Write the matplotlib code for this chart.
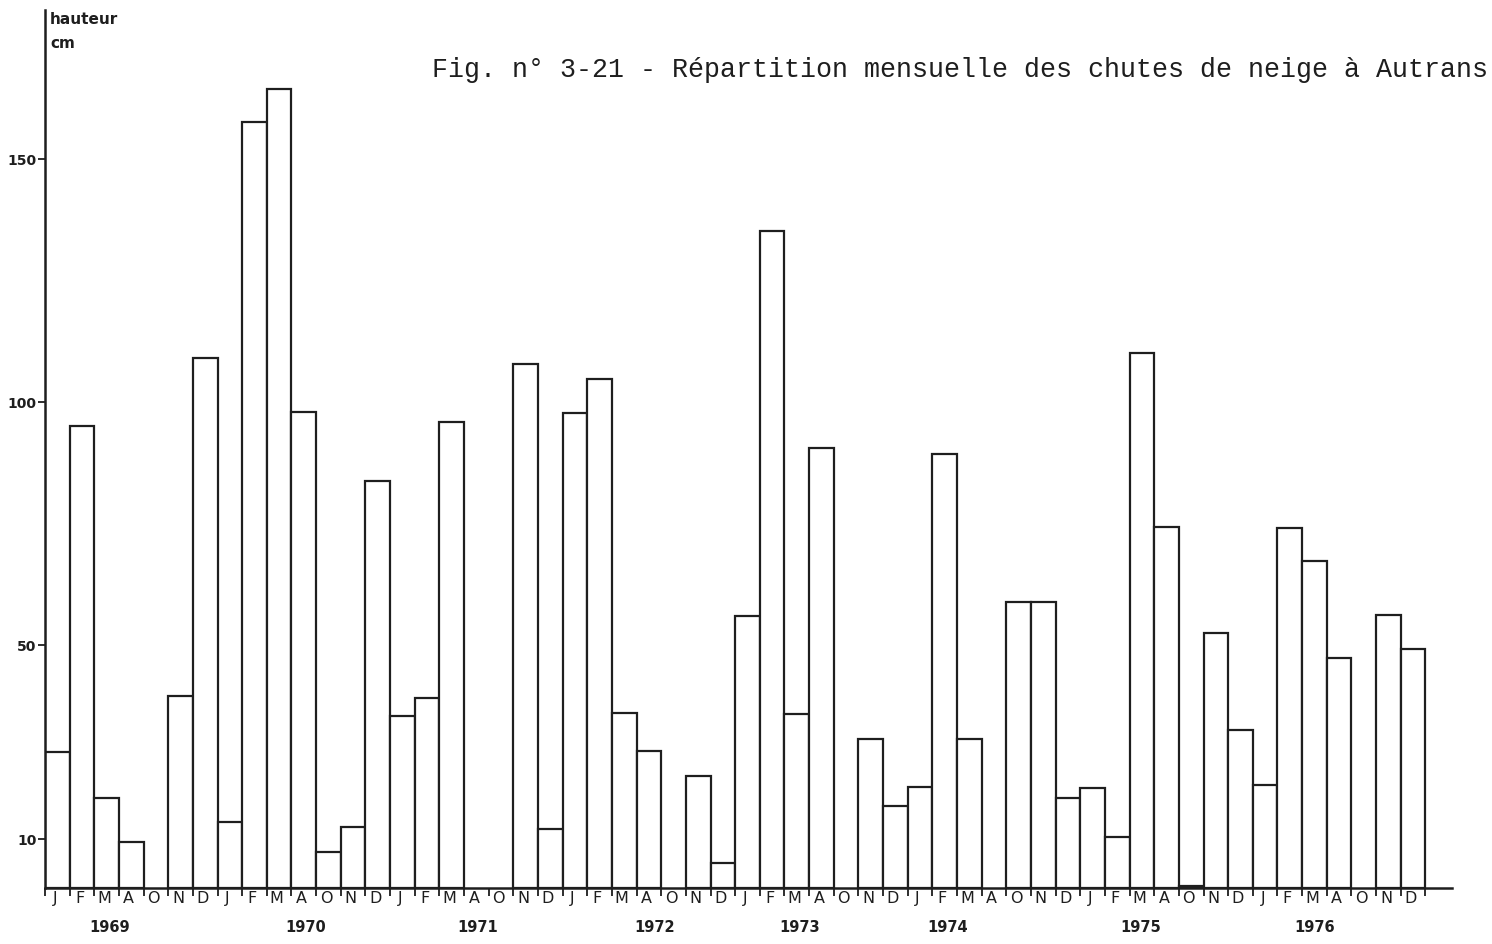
import numpy as np
import matplotlib
matplotlib.use("Agg")
import matplotlib.pyplot as plt

# monthly snowfall at Autrans (cm), snow months only: J F M A O N D
years = ["1969", "1970", "1971", "1972", "1973", "1974", "1975", "1976"]
months = ["J", "F", "M", "A", "O", "N", "D"]
snow = [
    27.9, 95.1, 18.6, 9.4, None, 39.5, 109.0,    # 1969
    13.5, 157.6, 164.5, 98.0, 7.4, 12.5, 83.8,   # 1970
    35.5, 39.1, 95.9, None, None, 107.8, 12.1,   # 1971
    97.7, 104.7, 36.1, 28.1, None, 23.0, 5.1,    # 1972
    55.9, 135.2, 35.9, 90.6, None, 30.7, 16.8,   # 1973
    20.7, 89.3, 30.7, None, 58.8, 58.8, 18.6,    # 1974
    20.5, 10.5, 110.2, 74.2, 0.5, 52.5, 32.6,    # 1975
    21.3, 74.0, 67.2, 47.3, None, 56.1, 49.2,    # 1976
]
yticks = [10, 50, 100, 150]

# where the year captions sit under the axis (slot units)
year_x = [2.64, 10.59, 17.57, 24.75, 30.63, 36.63, 44.46, 51.52]

ink = "#1e1e1e"
fig = plt.figure(figsize=(14.92, 9.44), dpi=100)
ax_h = 878 / 944
ax = fig.add_axes([45/1492, 56/944, 1407/1492, ax_h])

slots = np.arange(len(snow))
vals = np.array([np.nan if v is None else v for v in snow])
has = ~np.isnan(vals)
ax.bar(slots[has], vals[has], width=1.0, align="edge", facecolor="white",
       edgecolor=ink, linewidth=1.6)

ax.set_xlim(0, 57.08)
ax.set_ylim(0, 180.7)
for s in ["top", "right"]:
    ax.spines[s].set_visible(False)
for s in ["left", "bottom"]:
    ax.spines[s].set_color(ink)
    ax.spines[s].set_linewidth(1.8)

ax.set_yticks(yticks)
ax.set_yticklabels([str(t) for t in yticks], fontsize=10, fontweight="bold", color=ink)
ax.tick_params(axis="y", direction="out", length=5, width=1.3, color=ink, pad=1)

# month letters under each slot, small ticks at slot boundaries
ax.set_xticks(slots + 0.4)
ax.set_xticklabels(months * len(years), fontsize=11.5, fontweight="medium", color=ink)
ax.tick_params(axis="x", which="major", length=0, pad=2)
ax.set_xticks(np.arange(len(snow) + 1), minor=True)
ax.tick_params(axis="x", which="minor", direction="out", length=6, width=1.3, color=ink)

for xl, yr in zip(year_x, years):
    ax.text(xl, -40 / 878, yr, transform=ax.get_xaxis_transform(),
            ha="center", va="center", fontsize=10.5, fontweight="bold", color=ink)

fig.text(50/1492, 1 - 20/944, "hauteur", ha="left", va="center",
         fontsize=11, fontweight="bold", color=ink)
fig.text(50/1492, 1 - 43/944, "cm", ha="left", va="center",
         fontsize=11, fontweight="bold", color=ink)
fig.text(1488/1492, 1 - 70/944,
         "Fig. n° 3-21 - Répartition mensuelle des chutes de neige à Autrans",
         ha="right", va="center", fontsize=19.2, family="Liberation Mono", color=ink)

fig.savefig("out.png", dpi=100)
